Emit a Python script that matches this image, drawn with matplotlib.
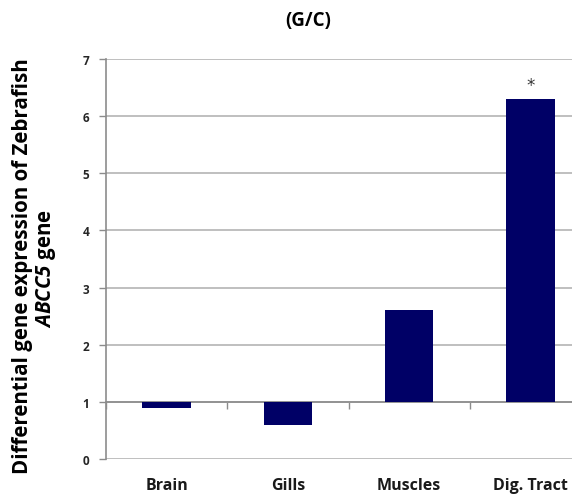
import matplotlib
matplotlib.use("Agg")
import matplotlib.pyplot as plt
import numpy as np

# values (fold change, G/C)
tissues = ["Brain", "Gills", "Muscles", "Dig. Tract"]
expression = [0.9, 0.6, 2.6, 6.3]
significant = [False, False, False, True]
y_ticks = [0, 1, 2, 3, 4, 5, 6, 7]

plt.rcParams["font.family"] = ["Open Sans", "DejaVu Sans"]
plt.rcParams["mathtext.fontset"] = "custom"
plt.rcParams["mathtext.it"] = "Open Sans:italic:bold"
plt.rcParams["mathtext.rm"] = "Open Sans:italic:bold"  # digits inside math

bar_color = "#000066"
grid_color = "#b4b4b4"
axis_color = "#8c8c8c"

fig = plt.figure(figsize=(5.72, 5.02), dpi=100)
# right edge runs past the figure, like the cropped original
ax = fig.add_axes([0.1853, 0.0837, 0.848, 0.7968])

x = np.arange(len(tissues))
base = 1.0
heights = [v - base for v in expression]
ax.bar(x, heights, bottom=base, width=0.4, color=bar_color, zorder=3)

for xi, v, s in zip(x, expression, significant):
    if s:
        ax.text(xi, v + 0.08, "*", ha="center", va="bottom", fontsize=12,
                color="#333333", family="DejaVu Sans")

ax.set_xlim(-0.5, len(tissues) - 0.5)
ax.set_ylim(0, 7)
ax.set_yticks(y_ticks)
ax.set_yticklabels([str(t) for t in y_ticks], fontsize=8.5, fontweight="bold",
                   color="#262626")
ax.tick_params(axis="y", length=5, width=1, color=axis_color, pad=7)
ax.yaxis.grid(True, color=grid_color, linewidth=1.2, zorder=0)
ax.set_axisbelow(True)

for side in ["top", "right"]:
    ax.spines[side].set_visible(False)
ax.spines["left"].set_color(axis_color)
ax.spines["left"].set_linewidth(1.2)
# category axis crosses the value axis at 1
ax.spines["bottom"].set_position(("data", base))
ax.spines["bottom"].set_color(axis_color)
ax.spines["bottom"].set_linewidth(1.2)
ax.set_xticks(np.arange(len(tissues) + 1) - 0.5)
ax.set_xticklabels([])
ax.tick_params(axis="x", length=5, width=1, color=axis_color)

# category names sit below the chart
sec = ax.secondary_xaxis("bottom")
sec.set_xticks(x)
sec.set_xticklabels(tissues, fontsize=11.5, fontweight="bold", color="#1a1a1a")
sec.tick_params(length=0, pad=13)
sec.spines["bottom"].set_visible(False)

fig.text(0.538, 0.959, "(G/C)", ha="center", va="center", fontsize=13.5,
         fontweight="bold")
fig.text(0.040, 0.47, "Differential gene expression of Zebrafish",
         rotation=90, ha="center", va="center", fontsize=14.8, fontweight="bold")
fig.text(0.081, 0.465, r"$\mathit{ABCC5}$ gene", rotation=90, ha="center",
         va="center", fontsize=14.8, fontweight="bold")

fig.savefig("out.png", dpi=100)
